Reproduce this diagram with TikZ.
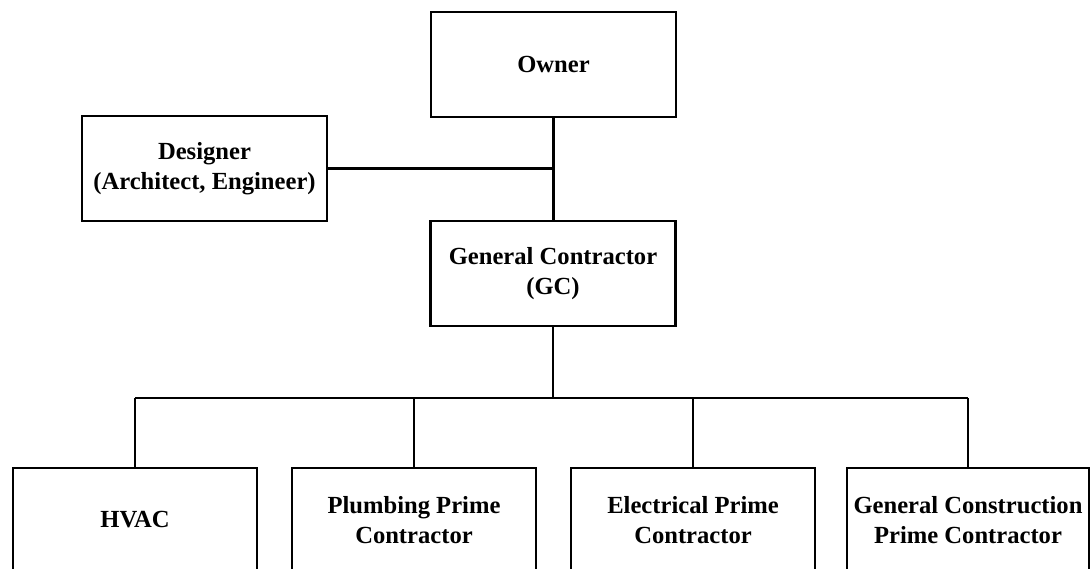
\documentclass[tikz,border=0pt]{standalone}
\usepackage{fontspec}
\setmainfont{Liberation Serif}
\begin{document}
\begin{tikzpicture}[x=1pt,y=-1pt,
  box/.style={draw=black, line width=2.8pt, fill=white, align=center, inner sep=0pt,
    font=\bfseries\fontsize{24.6}{29.5}\selectfont, minimum height=105pt},
  conn/.style={draw=black, line width=2.8pt}]
\useasboundingbox (0,0) rectangle (1090,569);
\clip (0,0) rectangle (1090,569);
\node[box, minimum width=245pt] (owner) at (553.5,64.5) {Owner};
\node[box, minimum width=245pt] (designer) at (204.5,168.5) {Designer\\(Architect, Engineer)};
\node[box, minimum width=245pt] (gc) at (553,273.5) {General Contractor\\(GC)};
\node[box, minimum width=244pt, minimum height=104pt] (hvac) at (135,520) {HVAC};
\node[box, minimum width=244pt, minimum height=104pt] (plumb) at (414,520) {Plumbing Prime\\Contractor};
\node[box, minimum width=244pt, minimum height=104pt] (elec) at (693,520) {Electrical Prime\\Contractor};
\node[box, minimum width=242pt, minimum height=104pt] (genc) at (968,520) {General Construction\\Prime Contractor};
\coordinate (bus) at (553,398);
\draw[conn] (owner.south) -- (owner.south |- gc.north);
\draw[conn] (designer.east) -- (designer.east -| owner.south);
\draw[conn] (gc.south) -- (bus);
\draw[conn] (hvac.north |- bus) -- (genc.north |- bus);
\draw[conn] (hvac.north |- bus) -- (hvac.north);
\draw[conn] (plumb.north |- bus) -- (plumb.north);
\draw[conn] (elec.north |- bus) -- (elec.north);
\draw[conn] (genc.north |- bus) -- (genc.north);
\end{tikzpicture}
\end{document}
